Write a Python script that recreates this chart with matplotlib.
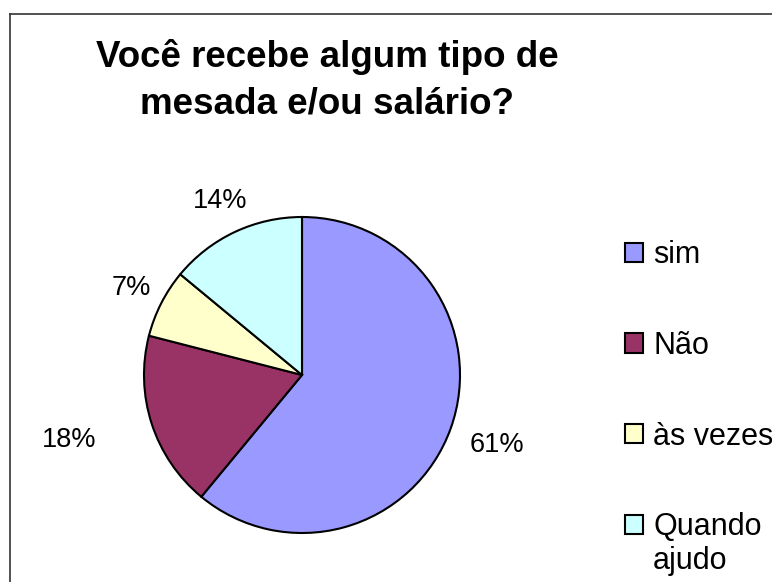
import matplotlib.pyplot as plt
from matplotlib.lines import Line2D
import numpy as np

plt.rcParams["font.family"] = ["Liberation Sans", "DejaVu Sans"]

# data
categories = ["sim", "Não", "às vezes", "Quando"]
last_label_tail = "ajudo"   # second line of "Quando ajudo"
values = [61, 18, 7, 14]
colors = ["#9999FF", "#993366", "#FFFFCC", "#CCFFFF"]
title = "Você recebe algum tipo de\nmesada e/ou salário?"

W, H = 772, 582
fig = plt.figure(figsize=(W / 100, H / 100), dpi=100)

# pie axes: center (302, 375) px, radius 158 px
cx, cy, r = 302, 375, 158
ax = fig.add_axes([(cx - r) / W, (H - cy - r) / H, 2 * r / W, 2 * r / H])
wedges, _ = ax.pie(values, colors=colors, startangle=90, counterclock=False,
                   radius=1.0, wedgeprops=dict(edgecolor="black", linewidth=1.5))
ax.set_xlim(-1, 1)
ax.set_ylim(-1, 1)
ax.set_aspect("equal")
ax.axis("off")

# percentage labels outside the wedges (distance, angle nudge in degrees)
label_dist = [1.31, 1.53, 1.21, 1.22]
label_nudge = [0, -2.5, 0, 0]
total = sum(values)
for w, v, d, n in zip(wedges, values, label_dist, label_nudge):
    mid = np.deg2rad((w.theta1 + w.theta2) / 2 + n)
    ax.text(d * np.cos(mid), d * np.sin(mid), "{:.0f}%".format(100 * v / total),
            ha="center", va="center", fontsize=19.5, clip_on=False)

fig.text(327 / W, 1 - 80 / H, title, ha="center", va="center",
         fontsize=26.5, fontweight="bold", linespacing=1.42)

leg = fig.legend(wedges, categories, loc="upper left",
                 bbox_to_anchor=(625 / W, 1 - 240 / H), frameon=False,
                 fontsize=22, handlelength=0.59, handleheight=0.59,
                 handletextpad=0.33, labelspacing=1.99, borderpad=0,
                 borderaxespad=0)
for h in leg.legend_handles:
    h.set_linewidth(1.5)

# second line of the last legend entry, placed under its first line
fig.canvas.draw()
bb = leg.texts[-1].get_window_extent().transformed(fig.transFigure.inverted())
fig.text(bb.x0, bb.y0 - 34 / H, last_label_tail, ha="left", va="bottom", fontsize=22)

# chart area border (only left and top edges visible)
fig.add_artist(Line2D([10 / W, 10 / W], [0, 1 - 14 / H], transform=fig.transFigure,
                      color="#333333", linewidth=1.2))
fig.add_artist(Line2D([10 / W, 1], [1 - 14 / H, 1 - 14 / H], transform=fig.transFigure,
                      color="#333333", linewidth=1.2))

fig.savefig("out.png", dpi=100, facecolor="white")
